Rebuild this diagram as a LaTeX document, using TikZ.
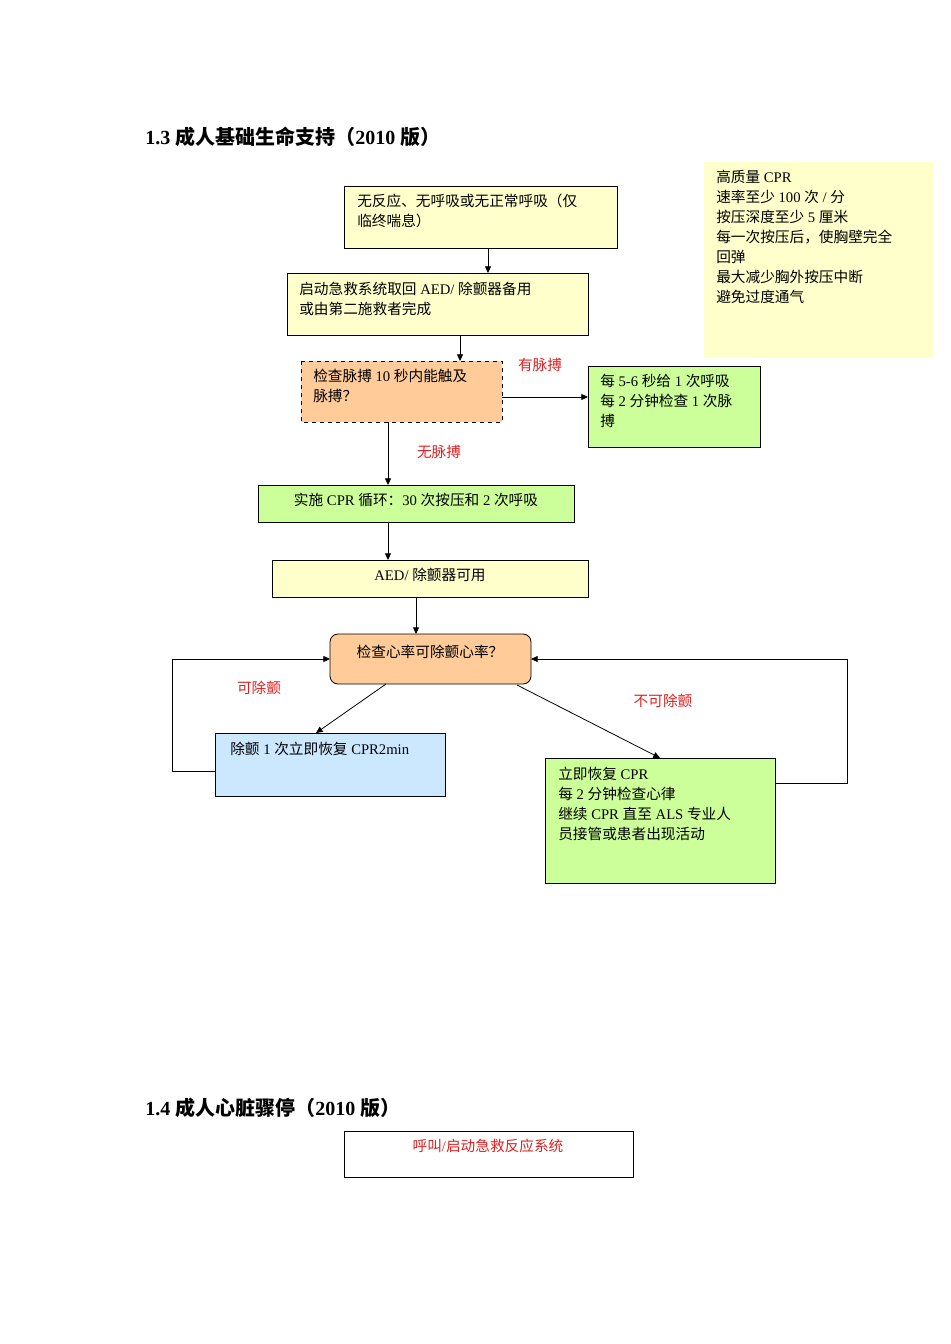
\documentclass[tikz,border=0pt]{standalone}
\usepackage{fontspec}
\setmainfont{Liberation Serif}
\newfontfamily\cjkf{Noto Sans CJK SC}
\newfontfamily\latf{Liberation Serif}
\XeTeXinterchartokenstate=1
\newXeTeXintercharclass\cjkclass
\count255="4E00
\loop\ifnum\count255<"A000 \XeTeXcharclass\count255=\cjkclass \advance\count255 by 1 \repeat
\count255="3000
\loop\ifnum\count255<"3040 \XeTeXcharclass\count255=\cjkclass \advance\count255 by 1 \repeat
\count255="FF00
\loop\ifnum\count255<"FFF0 \XeTeXcharclass\count255=\cjkclass \advance\count255 by 1 \repeat
\XeTeXinterchartoks 0 \cjkclass = {\cjkf}
\XeTeXinterchartoks 4095 \cjkclass = {\cjkf}
\XeTeXinterchartoks \cjkclass 0 = {\latf}
\XeTeXinterchartoks \cjkclass 4095 = {\latf}
\usetikzlibrary{arrows.meta}
\definecolor{ly}{HTML}{FFFFCC}
\definecolor{lo}{HTML}{FFCC99}
\definecolor{lg}{HTML}{CCFF99}
\definecolor{lb}{HTML}{CCE8FF}
\definecolor{rd}{HTML}{E02020}
\tikzset{
 bx/.style={draw=black,line width=0.6pt},
 tx/.style={anchor=north west,align=left,inner sep=0pt,font=\fontsize{11}{15}\selectfont},
 ctx/.style={anchor=north,align=center,inner sep=0pt,font=\fontsize{11}{15}\selectfont},
 lab/.style={inner sep=0pt,text=rd,font=\fontsize{11}{15}\selectfont},
 ar/.style={-{Triangle[length=5pt,width=4.5pt]},line width=0.6pt},
 ttl/.style={anchor=west,inner sep=0pt,font=\fontsize{15}{18}\selectfont\bfseries}
}
\begin{document}
\begin{tikzpicture}[x=0.75pt,y=-0.75pt]
\useasboundingbox (0,0) rectangle (950,1344);
\node[ttl] (t1) at (145,137) {1.3 成人基础生命支持（2010 版）};
\fill[ly] (704,162) rectangle (933,358);
\node[tx] (note) at (716,170) {高质量 CPR\\速率至少 100 次 / 分\\按压深度至少 5 厘米\\每一次按压后，使胸壁完全\\回弹\\最大减少胸外按压中断\\避免过度通气};
\draw[bx,fill=ly] (344,186) rectangle (617,248);
\node[tx] (b1) at (357,194) {无反应、无呼吸或无正常呼吸（仅\\临终喘息）};
\draw[bx,fill=ly] (287,273) rectangle (588,335);
\node[tx] (b2) at (299,282) {启动急救系统取回 AED/ 除颤器备用\\或由第二施救者完成};
\draw[bx,fill=lo,dashed] (301,361) rectangle (502,422);
\node[tx] (b3) at (313,369) {检查脉搏 10 秒内能触及\\脉搏？};
\draw[bx,fill=lg] (588,366) rectangle (760,447);
\node[tx] (b4) at (600,374) {每 5-6 秒给 1 次呼吸\\每 2 分钟检查 1 次脉\\搏};
\draw[bx,fill=lg] (258,485) rectangle (574,522);
\node[ctx] (b5) at (416,493) {实施 CPR 循环：30 次按压和 2 次呼吸};
\draw[bx,fill=ly] (272,560) rectangle (588,597);
\node[ctx] (b6) at (430,568) {AED/ 除颤器可用};
\draw[bx,fill=lo,rounded corners=6pt] (330,634) rectangle (531,684);
\node[ctx] (b7) at (430,645) {检查心率可除颤心率？};
\draw[bx,fill=lb] (215,733) rectangle (445,796);
\node[tx] (b8) at (230,742) {除颤 1 次立即恢复 CPR2min};
\draw[bx,fill=lg] (545,758) rectangle (775,883);
\node[tx] (b9) at (558,767) {立即恢复 CPR\\每 2 分钟检查心律\\继续 CPR 直至 ALS 专业人\\员接管或患者出现活动};
\coordinate (a1) at (488,248); \coordinate (a2) at (488,273);
\coordinate (c1) at (460,335); \coordinate (c2) at (460,361);
\coordinate (d1) at (502,397); \coordinate (d2) at (588,397);
\coordinate (e1) at (388,422); \coordinate (e2) at (388,485);
\coordinate (f1) at (388,522); \coordinate (f2) at (388,560);
\coordinate (g1) at (416,597); \coordinate (g2) at (416,634);
\coordinate (h1) at (386,684); \coordinate (h2) at (316,733);
\coordinate (i1) at (517,685); \coordinate (i2) at (660,758);
\coordinate (j1) at (215,771); \coordinate (j2) at (330,659);
\coordinate (k1) at (775,783); \coordinate (k2) at (531,659);
\draw[ar] (a1)--(a2);
\draw[ar] (c1)--(c2);
\draw[ar] (d1)--(d2);
\draw[ar] (e1)--(e2);
\draw[ar] (f1)--(f2);
\draw[ar] (g1)--(g2);
\draw[ar] (h1)--(h2);
\draw[ar] (i1)--(i2);
\draw[ar] (j1)--(172,771)--(172,659)--(j2);
\draw[ar] (k1)--(847,783)--(847,659)--(k2);
\node[lab] (l1) at (540,365) {有脉搏};
\node[lab] (l2) at (439,452) {无脉搏};
\node[lab] (l3) at (259,688) {可除颤};
\node[lab] (l4) at (663,701) {不可除颤};
\node[ttl] (t2) at (145,1108) {1.4 成人心脏骤停（2010 版）};
\draw[bx] (344,1131) rectangle (633,1177);
\node[ctx,text=rd] (b10) at (488,1139) {呼叫/启动急救反应系统};
\end{tikzpicture}
\end{document}
